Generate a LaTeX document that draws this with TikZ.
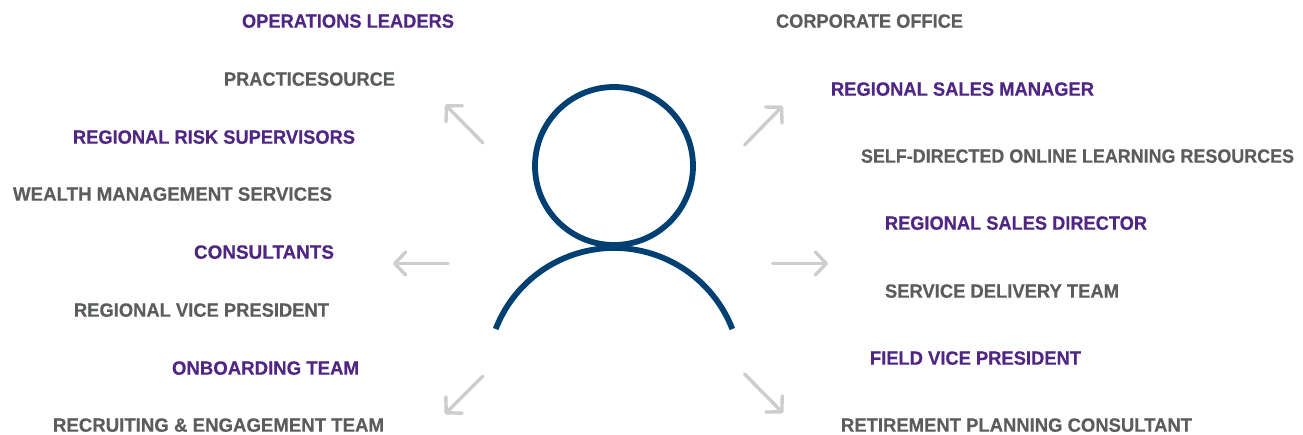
\documentclass[tikz,border=0pt]{standalone}
\usepackage{fontspec}
\usepackage{graphicx}
\setmainfont[BoldFeatures={FakeBold=0.4}]{Liberation Sans}
\usetikzlibrary{arrows.meta}
\definecolor{labpurple}{HTML}{4F2683}
\definecolor{labgray}{HTML}{5B5C5E}
\definecolor{navy}{HTML}{003F72}
\definecolor{arrowgray}{HTML}{CDCDCD}
\newcommand{\fitlabel}[2]{\resizebox{#1pt}{13.4pt}{\bfseries #2}}
\tikzset{
  lab/.style={anchor=base west,inner sep=0pt,outer sep=0pt},
  pur/.style={lab,text=labpurple},
  gry/.style={lab,text=labgray},
  pointer/.style={draw=arrowgray,line width=3.4pt,line cap=round,line join=round,-{Straight Barb[length=11pt,width=23pt,line width=3.4pt,round]}},
  person/.style={draw=navy,line width=5.8pt}
}
\begin{document}
\begin{tikzpicture}[x=1pt,y=-1pt]
\useasboundingbox (0,0) rectangle (1303,435);
% left labels
\node[pur] (l1) at (242,27.7) {\fitlabel{212}{OPERATIONS LEADERS}};
\node[gry] (l2) at (224,85.7) {\fitlabel{171}{PRACTICESOURCE}};
\node[pur] (l3) at (73,143.7) {\fitlabel{282}{REGIONAL RISK SUPERVISORS}};
\node[gry] (l4) at (13,200.7) {\fitlabel{319}{WEALTH MANAGEMENT SERVICES}};
\node[pur] (l5) at (194,258.7) {\fitlabel{140}{CONSULTANTS}};
\node[gry] (l6) at (74,316.7) {\fitlabel{255}{REGIONAL VICE PRESIDENT}};
\node[pur] (l7) at (172,374.7) {\fitlabel{187}{ONBOARDING TEAM}};
\node[gry] (l8) at (53,431.7) {\fitlabel{331}{RECRUITING \& ENGAGEMENT TEAM}};
% right labels
\node[gry] (r1) at (776,27.7) {\fitlabel{187}{CORPORATE OFFICE}};
\node[pur] (r2) at (831,95.7) {\fitlabel{263}{REGIONAL SALES MANAGER}};
\node[gry] (r3) at (861,162.7) {\fitlabel{433}{SELF-DIRECTED ONLINE LEARNING RESOURCES}};
\node[pur] (r4) at (885,229.7) {\fitlabel{262}{REGIONAL SALES DIRECTOR}};
\node[gry] (r5) at (885,297.7) {\fitlabel{234}{SERVICE DELIVERY TEAM}};
\node[pur] (r6) at (870,364.7) {\fitlabel{211}{FIELD VICE PRESIDENT}};
\node[gry] (r7) at (841,431.7) {\fitlabel{351}{RETIREMENT PLANNING CONSULTANT}};
% person
\coordinate (head) at (614,166);
\coordinate (shoulderL) at (495.7,329);
\draw[person] (head) circle[radius=79];
\draw[person] (shoulderL) arc[start angle=-158.8,end angle=-21.2,radius=126.9];
% arrows
\coordinate (a1s) at (483,143); \coordinate (a1e) at (445.3,104.7);
\coordinate (a2s) at (448,263.5); \coordinate (a2e) at (393,263.5);
\coordinate (a3s) at (483,376); \coordinate (a3e) at (445,414);
\coordinate (a4s) at (744.5,145); \coordinate (a4e) at (782.7,106);
\coordinate (a5s) at (772.5,263.5); \coordinate (a5e) at (828,263.5);
\coordinate (a6s) at (744.5,374); \coordinate (a6e) at (783,413);
\foreach \n in {1,...,6} \draw[pointer] (a\n s) -- (a\n e);
\end{tikzpicture}
\end{document}
